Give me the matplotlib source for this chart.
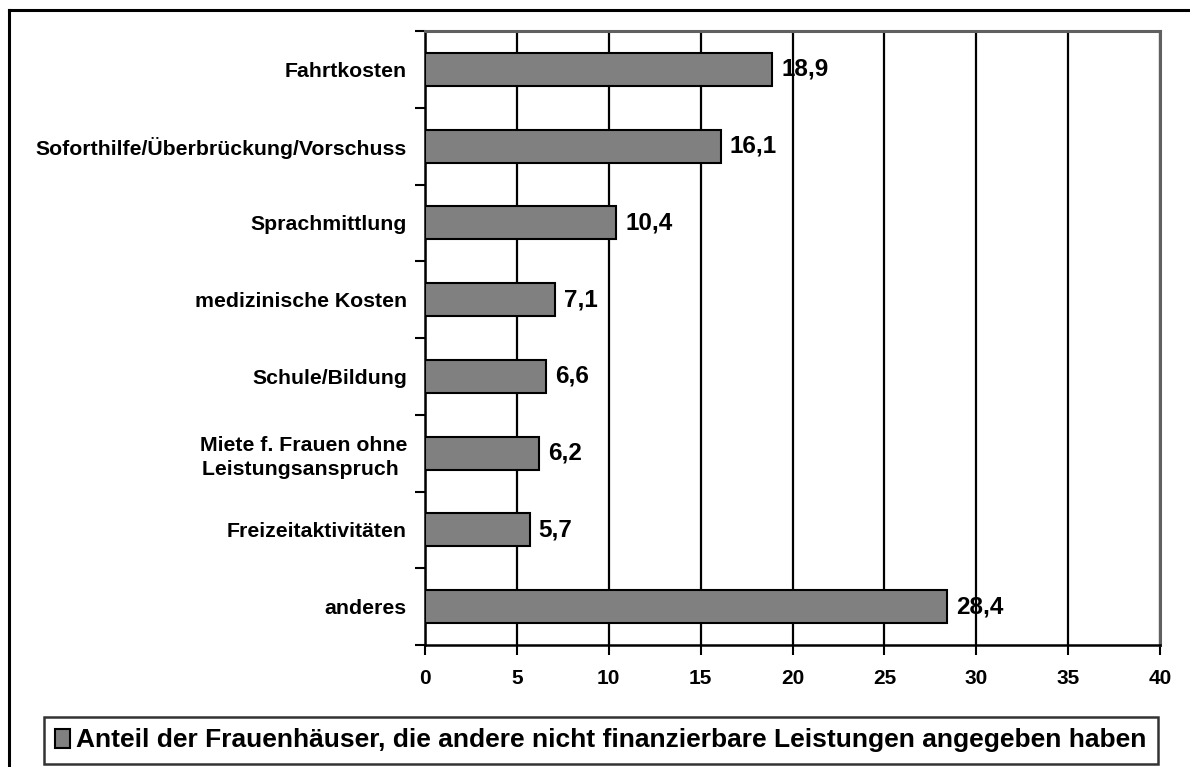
import matplotlib.pyplot as plt
from matplotlib.lines import Line2D
import numpy as np

# data, top to bottom as in the chart
categories = ["Fahrtkosten",
              "Soforthilfe/Überbrückung/Vorschuss",
              "Sprachmittlung",
              "medizinische Kosten",
              "Schule/Bildung",
              "Miete f. Frauen ohne\nLeistungsanspruch ",
              "Freizeitaktivitäten",
              "anderes"]
values = [18.9, 16.1, 10.4, 7.1, 6.6, 6.2, 5.7, 28.4]
series_name = "Anteil der Frauenhäuser, die andere nicht finanzierbare Leistungen angegeben haben"
x_ticks = [0, 5, 10, 15, 20, 25, 30, 35, 40]

plt.rcParams['font.family'] = ['Liberation Sans', 'DejaVu Sans']
plt.rcParams['font.weight'] = 'bold'

W, H = 1190, 767
fig = plt.figure(figsize=(W/100, H/100), dpi=100)
ax = fig.add_axes([425/W, 1-645/H, 735/W, 614/H])

n = len(categories)
y = np.arange(n)[::-1]
bars = ax.barh(y, values, height=0.43, color="#808080", edgecolor="black",
               linewidth=1.5, zorder=3, label=series_name)

ax.set_xlim(0, 40)
ax.set_ylim(-0.5, n-0.5)
ax.set_xticks(x_ticks)
ax.set_xticklabels([str(t) for t in x_ticks], fontsize=15, fontweight="bold")
ax.tick_params(axis="x", length=7, width=1.5, pad=10)
ax.set_yticks(y)
ax.set_yticklabels(categories, fontsize=15.3, fontweight="bold",
                   multialignment="center", linespacing=1.35)
ax.tick_params(axis="y", length=0, pad=13)
ax.set_yticks(np.arange(-0.5, n, 1), minor=True)
ax.tick_params(axis="y", which="minor", length=7, width=1.5)

ax.grid(axis="x", color="black", linewidth=1.6, zorder=1)
for s in ["left", "bottom"]:
    ax.spines[s].set_color("black")
    ax.spines[s].set_linewidth(1.8)
for s in ["top", "right"]:
    ax.spines[s].set_color("#606060")
    ax.spines[s].set_linewidth(2.2)

labels = [f"{v:.1f}".replace(".", ",") for v in values]
ax.bar_label(bars, labels=labels, padding=6.5, fontsize=17.5, fontweight="bold", zorder=4)

# outer frame
fig.add_artist(Line2D([9/W, 1.0], [1-10/H, 1-10/H], color="black", linewidth=2.2,
                      transform=fig.transFigure))
fig.add_artist(Line2D([9/W, 9/W], [0.0, 1-10/H], color="black", linewidth=2.2,
                      transform=fig.transFigure))

leg = fig.legend(loc="center", bbox_to_anchor=(601/W, 1-740.5/H), frameon=True,
                 fancybox=False, edgecolor="black",
                 prop={"weight": "bold", "size": 19},
                 handlelength=0.55, handleheight=0.7, handletextpad=0.25,
                 borderpad=0.42, borderaxespad=0)
leg.get_frame().set_linewidth(1.8)

fig.savefig("out.png", dpi=100)
